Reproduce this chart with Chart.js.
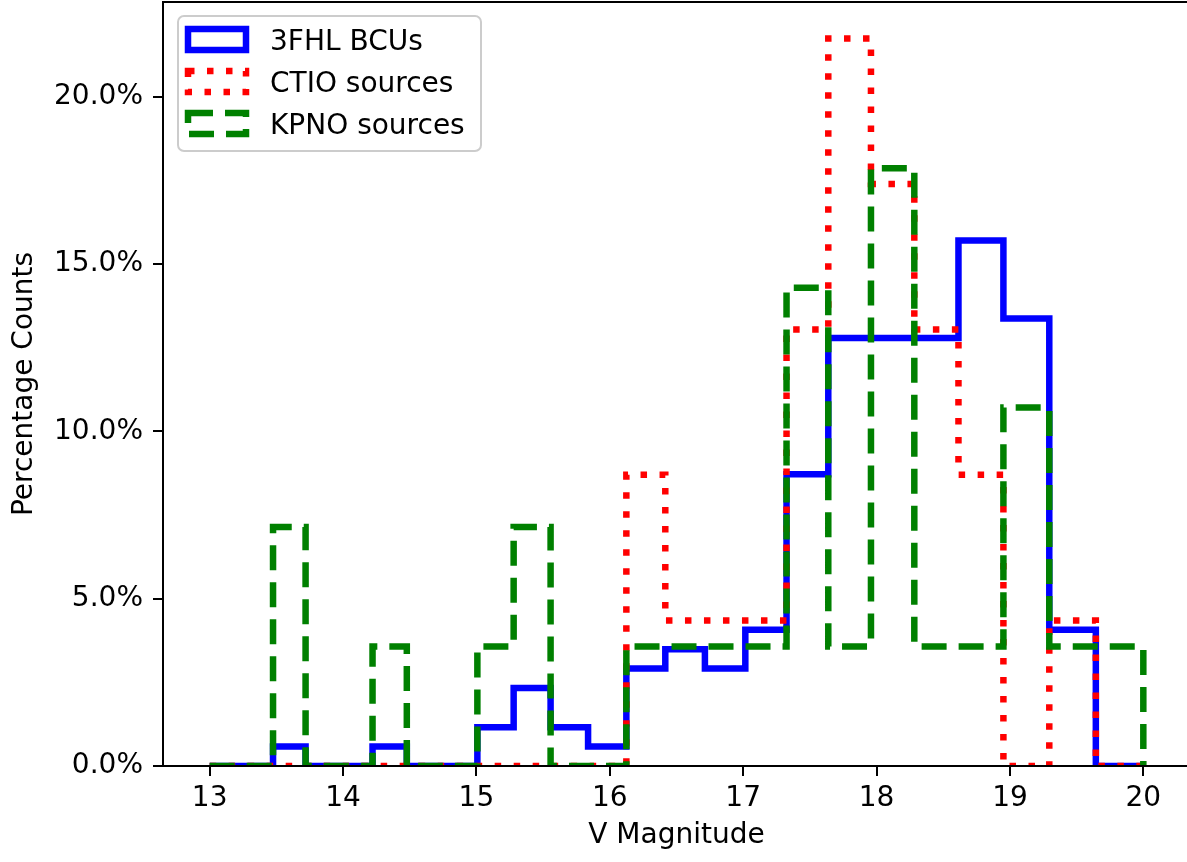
<!DOCTYPE html>
<html>
<head>
<meta charset="utf-8">
<script src="https://cdn.jsdelivr.net/npm/chart.js@4.4.1/dist/chart.umd.min.js"></script>
<style>
  html, body { margin: 0; padding: 0; background: #fff; overflow: hidden; }
  #histChart { position: absolute; left: 0; top: 0; }
</style>
</head>
<body>
<canvas id="histChart" width="1192" height="862"></canvas>
<script>
// log-spaced bin edges, 13 .. 20 (24 bins)
const binEdges = [13.000, 13.235, 13.475, 13.719, 13.968, 14.221, 14.478, 14.740,
  15.007, 15.279, 15.556, 15.837, 16.124, 16.416, 16.713, 17.016, 17.325, 17.638,
  17.958, 18.283, 18.614, 18.951, 19.295, 19.644, 20.000];

// percentage counts per bin
const bcuPct  = [0, 0, 0.58, 0, 0, 0.58, 0, 0, 1.16, 2.33, 1.16, 0.58,
  2.91, 3.49, 2.91, 4.07, 8.72, 12.79, 12.79, 12.79, 15.70, 13.37, 4.07, 0];
const ctioPct = [0, 0, 0, 0, 0, 0, 0, 0, 0, 0, 0, 0,
  8.70, 4.35, 4.35, 4.35, 13.04, 21.74, 17.39, 13.04, 8.70, 0, 4.35, 0];
const kpnoPct = [0, 0, 7.14, 0, 0, 3.57, 0, 0, 3.57, 7.14, 0, 0,
  3.57, 3.57, 3.57, 3.57, 14.29, 3.57, 17.86, 3.57, 3.57, 10.71, 3.57, 3.57];

const seriesLabels = ["3FHL BCUs", "CTIO sources", "KPNO sources"];
const xTicks = [13, 14, 15, 16, 17, 18, 19, 20];
const yTicks = [0, 5, 10, 15, 20];

const FONT = { family: "DejaVu Sans", size: 28 };

// outline of a step histogram: rises at the first edge, drops at the last
function stepPoints(vals) {
  const pts = [{ x: binEdges[0], y: 0 }];
  vals.forEach((v, i) => pts.push({ x: binEdges[i], y: v }));
  pts.push({ x: binEdges[binEdges.length - 1], y: vals[vals.length - 1] });
  pts.push({ x: binEdges[binEdges.length - 1], y: 0 });
  return pts;
}

function histSet(label, vals, color, dash, order) {
  return {
    label,
    data: stepPoints(vals),
    borderColor: color,
    backgroundColor: "rgba(0,0,0,0)",
    borderWidth: 6.5,
    borderDash: dash,
    borderCapStyle: "butt",
    stepped: true,
    fill: false,
    pointRadius: 0,
    clip: 0,
    order,
  };
}

const framePlugin = {
  id: "frame",
  afterDatasetsDraw(chart) {
    const { ctx, chartArea: a } = chart;
    ctx.save();
    ctx.strokeStyle = "#000";
    ctx.lineWidth = 2;
    ctx.strokeRect(a.left, a.top, a.right - a.left, a.bottom - a.top);
    ctx.restore();
  },
};

const legendPlugin = {
  id: "boxLegend",
  afterDraw(chart) {
    const ctx = chart.ctx;
    ctx.save();
    ctx.beginPath();
    ctx.roundRect(178, 16, 303, 135, 6);
    ctx.fillStyle = "rgba(255,255,255,0.8)";
    ctx.fill();
    ctx.strokeStyle = "#cccccc";
    ctx.lineWidth = 2;
    ctx.stroke();

    chart.data.datasets.forEach((ds, i) => {
      const y = 29 + i * 42;
      ctx.strokeStyle = ds.borderColor;
      ctx.lineWidth = ds.borderWidth;
      ctx.setLineDash(ds.borderDash || []);
      ctx.strokeRect(188, y, 58, 21);
      ctx.setLineDash([]);
      ctx.fillStyle = "#000";
      ctx.font = `${FONT.size}px ${FONT.family}`;
      ctx.textBaseline = "alphabetic";
      ctx.fillText(ds.label, 270, 50 + i * 42);
    });
    ctx.restore();
  },
};

Chart.defaults.font.family = FONT.family;

new Chart(document.getElementById("histChart"), {
  type: "line",
  data: {
    datasets: [
      histSet(seriesLabels[0], bcuPct, "#0000ff", [], 3),
      histSet(seriesLabels[1], ctioPct, "#ff0000", [6.5, 12.5], 2),
      histSet(seriesLabels[2], kpnoPct, "#008000", [25, 12], 1),
    ],
  },
  options: {
    responsive: false,
    animation: false,
    devicePixelRatio: 1,
    layout: { padding: { top: 2, right: 2, left: 0, bottom: 0 } },
    plugins: { legend: { display: false }, tooltip: { enabled: false } },
    scales: {
      x: {
        type: "linear",
        min: 12.65,
        max: 20.35,
        afterBuildTicks: s => { s.ticks = xTicks.map(v => ({ value: v })); },
        afterFit: s => { s.height = 96; s.paddingLeft = 0; s.paddingRight = 0; },
        ticks: { color: "#000", font: FONT, padding: 6, maxRotation: 0, autoSkip: false,
          callback: v => String(v) },
        grid: { drawOnChartArea: false, color: "#000", lineWidth: 2, tickLength: 10 },
        border: { display: false },
        title: { display: true, text: "V Magnitude", color: "#000", font: FONT,
          padding: { top: 0, bottom: 9 } },
      },
      y: {
        min: 0,
        max: 22.83,
        afterBuildTicks: s => { s.ticks = yTicks.map(v => ({ value: v })); },
        afterFit: s => { s.width = 163; s.paddingTop = 0; s.paddingBottom = 0; },
        ticks: { color: "#000", font: FONT, padding: 10, callback: v => v.toFixed(1) + "%" },
        grid: { drawOnChartArea: false, color: "#000", lineWidth: 2, tickLength: 10 },
        border: { display: false },
        title: { display: true, text: "Percentage Counts", color: "#000", font: FONT,
          padding: { top: 8, bottom: 0 } },
      },
    },
  },
  plugins: [framePlugin, legendPlugin],
});
</script>
</body>
</html>
